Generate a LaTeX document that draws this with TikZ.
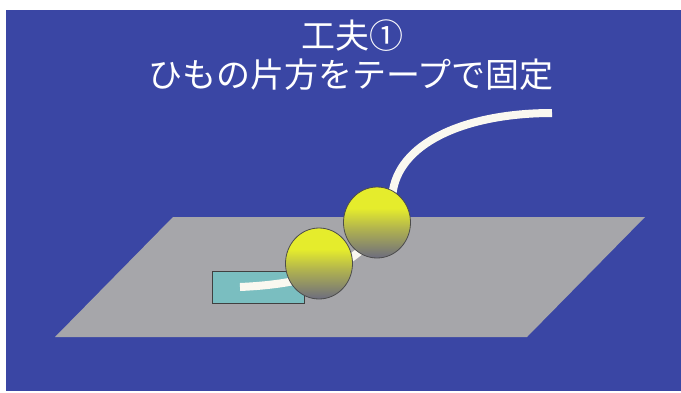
\documentclass[tikz,border=0pt]{standalone}
\usepackage{fontspec}
\newfontfamily\jpfont{Noto Sans CJK JP}
\usetikzlibrary{shapes.geometric}

\definecolor{slide}{RGB}{58,70,164}
\definecolor{floorgrey}{RGB}{166,166,170}
\definecolor{tapeteal}{RGB}{122,190,192}
\definecolor{cordwhite}{RGB}{250,248,240}
\definecolor{ballyellow}{RGB}{229,236,44}
\definecolor{ballolive}{RGB}{178,180,78}
\definecolor{ballgrey}{RGB}{112,112,124}

% yellow on top, running down to grey
\pgfdeclareverticalshading{ballshade}{100bp}{%
  color(0bp)=(ballgrey); color(26bp)=(ballgrey);
  color(46bp)=(ballolive); color(60bp)=(ballyellow);
  color(100bp)=(ballyellow)}

\tikzset{
  title/.style={text=white,font=\jpfont\fontsize{34}{40}\selectfont,anchor=base,inner sep=0pt},
  tape/.style={rectangle,draw=black!75,line width=0.9pt,fill=tapeteal,inner sep=0pt,
    minimum width=92pt,minimum height=32pt},
  ball/.style={ellipse,draw=black!70,line width=0.8pt,shading=ballshade,inner sep=0pt,
    minimum width=67pt,minimum height=71pt},
  cord/.style={draw=cordwhite,line width=8pt}
}

\begin{document}
\begin{tikzpicture}[x=1pt,y=-1pt]

  \useasboundingbox (0,0) rectangle (681,392);
  \fill[slide] (6,10) rectangle (681,391);

  % the table top
  \fill[floorgrey] (173,217) -- (645,217) -- (527,337) -- (55,337) -- cycle;

  \node[title] (line1) at (352,48) {工夫①};
  \node[title] (line2) at (351,87) {ひもの片方をテープで固定};

  \node[tape] (tape) at (258,287) {};

  % the cord, under the two balls
  \coordinate (cordend) at (240,287);
  \coordinate (cordtop) at (552,113);
  \draw[cord] (cordend) .. controls (285,285) and (320,278) .. (345,262)
    .. controls (370,246) and (388,225) .. (393,190)
    .. controls (402,140) and (470,113) .. (cordtop);

  \begin{scope}[every node/.style={ball}]
    \node (ball2) at (377,222.5) {};
    \node (ball1) at (319,263.5) {};
  \end{scope}

\end{tikzpicture}
\end{document}
